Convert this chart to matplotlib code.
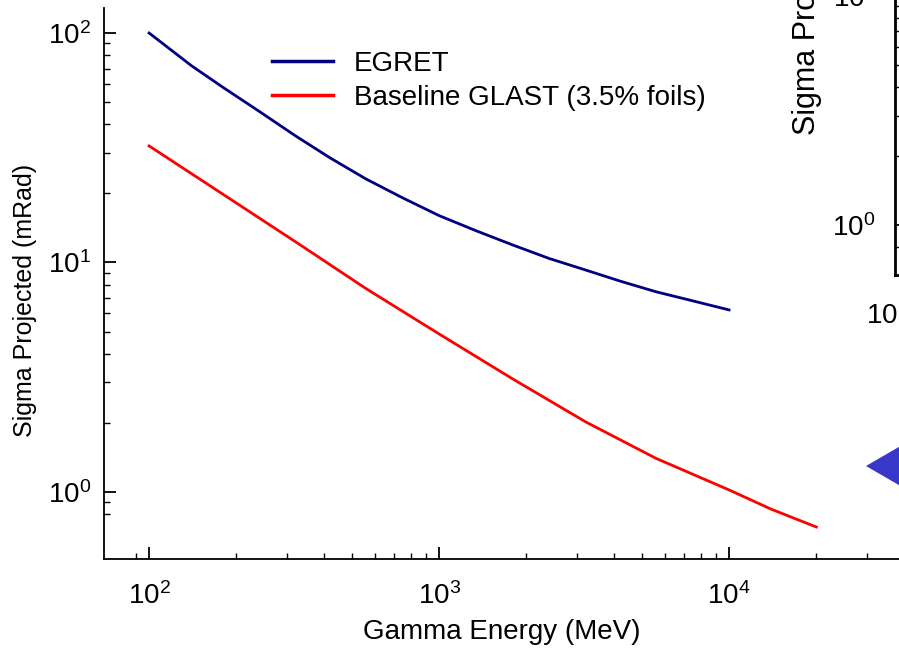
import matplotlib
matplotlib.use('Agg')
import matplotlib.pyplot as plt
from matplotlib.ticker import FixedLocator, NullFormatter, LogFormatterMathtext
from matplotlib.patches import Polygon

# ---- data ----
energy_egret = [100, 140, 180, 240, 320, 420, 560, 750, 1000, 1350, 1800,
                2400, 3200, 4200, 5600, 7500, 10000]
sigma_egret = [100, 72.0, 57.9, 45.5, 35.6, 28.6, 23.1, 19.1, 16.0, 13.7, 11.9,
               10.4, 9.27, 8.30, 7.45, 6.80, 6.21]
energy_glast = [100, 180, 320, 560, 1000, 1800, 3200, 5600, 10000, 14000, 20000]
sigma_glast = [32.2, 19.8, 12.3, 7.69, 4.88, 3.10, 2.02, 1.40, 1.02, 0.84, 0.703]
series_labels = ["EGRET", "Baseline GLAST (3.5% foils)"]

x_major = [1e2, 1e3, 1e4]
x_minor = [90, 200, 300, 400, 500, 600, 700, 800, 900,
           2000, 3000, 4000, 5000, 6000, 7000, 8000, 9000, 20000, 30000]
y_major = [1, 10, 100]
y_minor = [0.8, 0.9, 2, 3, 4, 5, 6, 7, 8, 9, 20, 30, 40, 50, 60, 70, 80, 90]

right_y_major = [1, 10]
right_y_minor = [0.8, 2, 3, 4, 5, 6, 7, 8, 9]

plt.rcParams['font.family'] = ['Liberation Sans', 'DejaVu Sans']
plt.rcParams['mathtext.fontset'] = 'custom'
plt.rcParams['mathtext.rm'] = 'Liberation Sans'
plt.rcParams['mathtext.it'] = 'Liberation Sans:italic'
plt.rcParams['mathtext.bf'] = 'Liberation Sans:bold'

W, H = 899, 648
fig = plt.figure(figsize=(W / 100, H / 100), dpi=100)

def fx(px):
    return px / W

def fy(py):
    return 1 - py / H

# main axes
ax = fig.add_axes([fx(104), fy(559), 1 - fx(104), fy(8) - fy(559)])
ax.set_xscale('log')
ax.set_yscale('log')
ax.set_xlim(69.9, 38550)
ax.set_ylim(0.510, 128.5)

ax.plot(energy_egret, sigma_egret, color='#000080', lw=2, label=series_labels[0])
ax.plot(energy_glast, sigma_glast, color='#ff0000', lw=2, label=series_labels[1])

for s in ['top', 'right']:
    ax.spines[s].set_visible(False)
for s in ['left', 'bottom']:
    ax.spines[s].set_linewidth(1.3)

ax.xaxis.set_major_locator(FixedLocator(x_major))
ax.xaxis.set_minor_locator(FixedLocator(x_minor))
ax.yaxis.set_major_locator(FixedLocator(y_major))
ax.yaxis.set_minor_locator(FixedLocator(y_minor))
ax.xaxis.set_major_formatter(LogFormatterMathtext())
ax.yaxis.set_major_formatter(LogFormatterMathtext())
ax.xaxis.set_minor_formatter(NullFormatter())
ax.yaxis.set_minor_formatter(NullFormatter())

ax.tick_params(which='both', direction='in', top=False, right=False, labelsize=20)
ax.tick_params(which='major', length=8.5, width=1.3)
ax.tick_params(which='minor', length=4.5, width=1.0)
ax.tick_params(axis='x', which='major', pad=17)
ax.tick_params(axis='y', which='major', pad=9)

ax.set_xlabel('Gamma Energy (MeV)', fontsize=20, va='center')
ax.xaxis.set_label_coords(fx(502), fy(632), transform=fig.transFigure)
ax.set_ylabel('Sigma Projected (mRad)', fontsize=18, rotation_mode='default',
              ha='right', va='bottom')
ax.yaxis.set_label_coords(fx(37), fy(437), transform=fig.transFigure)

leg = ax.legend(loc='center left', bbox_to_anchor=(fx(272), fy(81)),
                bbox_transform=fig.transFigure, frameon=False, fontsize=20,
                handlelength=2.2, handletextpad=0.75, labelspacing=0.3,
                borderpad=0, borderaxespad=0)
for line in leg.get_lines():
    line.set_linewidth(2.5)

# partial neighbouring chart cut off at the right edge
ax2 = fig.add_axes([fx(895), fy(275), 0.5, fy(-10) - fy(275)])
ax2.set_xscale('log')
ax2.set_yscale('log')
ax2.set_xlim(200, 40000)
ax2.set_ylim(0.605, 10.6)
for s in ['top', 'right']:
    ax2.spines[s].set_visible(False)
for s in ['left', 'bottom']:
    ax2.spines[s].set_linewidth(2)
ax2.set_xticks([])
ax2.yaxis.set_major_locator(FixedLocator(right_y_major))
ax2.yaxis.set_minor_locator(FixedLocator(right_y_minor))
ax2.yaxis.set_major_formatter(LogFormatterMathtext())
ax2.yaxis.set_minor_formatter(NullFormatter())
ax2.tick_params(which='both', direction='in', labelsize=20)
ax2.tick_params(axis='y', which='major', length=8.5, width=1.3, pad=14)
ax2.tick_params(axis='y', which='minor', length=4.5, width=1.0)
fig.text(fx(822), fy(135), 'Sigma Projected (mRad)', rotation=90,
         ha='right', va='bottom', fontsize=22)
fig.text(fx(866), fy(316), r'$\mathdefault{10^{2}}$', ha='left', va='center',
         fontsize=20)

tri = Polygon([[fx(866), fy(466)], [fx(935), fy(426)], [fx(935), fy(506)]],
              closed=True, transform=fig.transFigure, facecolor='#3838c8',
              edgecolor='none')
fig.patches.append(tri)

fig.savefig('out.png', dpi=100)
